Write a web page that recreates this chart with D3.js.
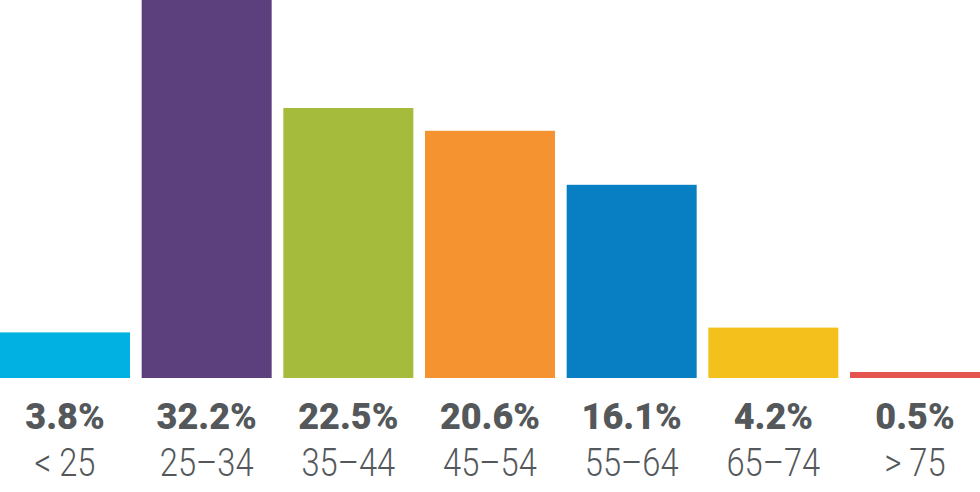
<!DOCTYPE html>
<html>
<head>
<meta charset="utf-8">
<script src="https://cdn.jsdelivr.net/npm/d3@7"></script>
<style>
  html, body { margin: 0; padding: 0; background: #fff; }
  svg { display: block; }
</style>
</head>
<body>
<svg id="chart" width="980" height="492"></svg>
<script>
const categories = ["< 25", "25\u201334", "35\u201344", "45\u201354", "55\u201364", "65\u201374", "> 75"];
const values = [3.8, 32.2, 22.5, 20.6, 16.1, 4.2, 0.5];
const colors = ["#00b1e1", "#5c407d", "#a5bb3c", "#f4932f", "#087fc3", "#f4c01b", "#e45550"];

const W = 980, H = 492, baseY = 378;
const svg = d3.select("#chart");

const x = d3.scaleBand().domain(categories).range([0, W]).paddingInner(70 / 850).paddingOuter(0);
const bw = x.bandwidth();
const y = d3.scaleLinear().domain([0, 31.5]).range([baseY, 0]);

const data = categories.map((c, i) => ({ c, v: values[i], col: colors[i] }));

svg.selectAll("rect.bar").data(data).enter().append("rect")
  .attr("class", "bar")
  .attr("x", d => x(d.c))
  .attr("width", bw)
  .attr("y", d => y(d.v))
  .attr("height", d => baseY - y(d.v))
  .attr("fill", d => d.col);

svg.selectAll("text.val").data(data).enter().append("text")
  .attr("class", "val")
  .attr("x", d => x(d.c) + bw / 2)
  .attr("y", 429)
  .attr("text-anchor", "middle")
  .attr("font-family", "Roboto, sans-serif")
  .attr("font-weight", 900)
  .attr("font-size", 36)
  .attr("fill", "#54585b")
  .text(d => d.v.toFixed(1) + "%");

svg.selectAll("text.cat").data(data).enter().append("text")
  .attr("class", "cat")
  .attr("x", d => x(d.c) + bw / 2)
  .attr("y", 476)
  .attr("text-anchor", "middle")
  .attr("font-family", "Roboto, sans-serif")
  .attr("font-weight", 300)
  .attr("font-size", 38)
  .attr("fill", "#54585b")
  .attr("transform", d => `translate(${x(d.c) + bw / 2},0) scale(0.86,1) translate(${-(x(d.c) + bw / 2)},0)`)
  .text(d => d.c);
</script>
</body>
</html>
